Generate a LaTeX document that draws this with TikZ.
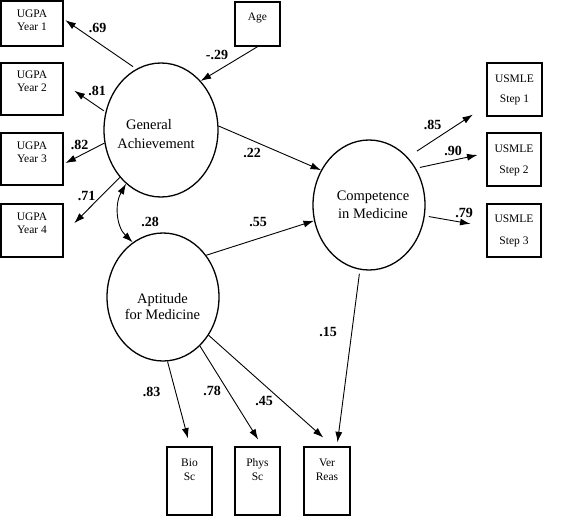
\documentclass[tikz,border=0pt]{standalone}
\usepackage{fontspec}
\setmainfont{Liberation Serif}
\usetikzlibrary{arrows.meta,shapes.geometric}
\newcommand{\bxt}[4]{\parbox[c][#2][t]{#1}{\centering\vspace*{#3}#4\par}}
\tikzset{
  conn/.style={line width=0.9pt, -{Latex[length=10.5pt,width=7pt]}},
  biconn/.style={line width=0.9pt, {Latex[length=10.5pt,width=7pt]}-{Latex[length=10.5pt,width=7pt]}},
  obs/.style={draw, line width=1.4pt, rectangle, inner sep=0pt, font=\fontsize{11.5}{13}\selectfont},
  lat/.style={draw, ellipse, line width=1.3pt, inner sep=0pt},
  lattext/.style={align=center, font=\fontsize{14.5}{18.3}\selectfont, inner sep=0pt},
  coef/.style={font=\bfseries\fontsize{14}{16}\selectfont, inner sep=0pt},
}
\begin{document}
\begin{tikzpicture}[x=1pt,y=-1pt]
\useasboundingbox (0,0) rectangle (568,517);

% observed boxes
\node[obs] (y1) at (32,23.5) {\bxt{62pt}{45pt}{9pt}{UGPA\\Year 1}};
\node[obs] (y2) at (32,89) {\bxt{62pt}{52pt}{8pt}{UGPA\\Year 2}};
\node[obs] (y3) at (32,159) {\bxt{62pt}{52pt}{9pt}{UGPA\\Year 3}};
\node[obs] (y4) at (32,230.5) {\bxt{62pt}{53pt}{9pt}{UGPA\\Year 4}};
\node[obs] (age) at (257.5,24) {\bxt{45pt}{44pt}{11pt}{Age}};
\node[obs, font=\fontsize{11.5}{20}\selectfont] (s1) at (514.5,89.5) {\bxt{55pt}{53pt}{12pt}{USMLE\\Step 1}};
\node[obs, font=\fontsize{11.5}{21}\selectfont] (s2) at (514,159.5) {\bxt{54pt}{53pt}{12pt}{USMLE\\Step 2}};
\node[obs, font=\fontsize{11.5}{22}\selectfont] (s3) at (514,230.5) {\bxt{54pt}{53pt}{11pt}{USMLE\\Step 3}};
\node[obs, font=\fontsize{11.5}{14}\selectfont] (bio) at (189.5,481) {\bxt{45pt}{68pt}{12pt}{Bio\\Sc}};
\node[obs, font=\fontsize{11.5}{14}\selectfont] (phys) at (257.5,481) {\bxt{45pt}{68pt}{12pt}{Phys\\Sc}};
\node[obs, font=\fontsize{11.5}{14}\selectfont] (vr) at (327,481) {\bxt{46pt}{68pt}{12pt}{Ver\\Reas}};

% latent ellipses
\node[lat, minimum width=114pt, minimum height=134pt] (ga) at (161,130) {};
\node[lat, minimum width=112pt, minimum height=130pt] (cm) at (369,205) {};
\node[lat, minimum width=112pt, minimum height=128pt] (am) at (163,297) {};
\node[lattext] (gat) at (156,134) {General\rule{14pt}{0pt}\\Achievement};
\node[lattext] (cmt) at (373,204.7) {Competence\\in Medicine};
\node[lattext, font=\fontsize{14.5}{16.5}\selectfont] (amt) at (162.5,306.5) {Aptitude\\for Medicine};

% connectors
\draw[conn, shorten <=4pt, shorten >=2pt] (ga.112) -- (y1.8);
\draw[conn, shorten <=2pt, shorten >=13pt] (ga.162) -- (y2.10);
\draw[conn, shorten >=2pt] (ga.193) -- (y3.351);
\draw[conn, shorten >=15pt] (ga.229) -- (y4.354);
\draw[conn] (age.south) -- (ga.51);
\draw[conn] (ga.4) -- (cm.144);
\draw[biconn] (ga.237) to[out=240,in=136] (am.119);
\draw[conn] (am.44) -- (cm.196);
\draw[conn, shorten <=11pt, shorten >=16pt] (cm.51) -- (s1.210.5);
\draw[conn, shorten <=4pt, shorten >=9pt] (cm.38.5) -- (s2.167);
\draw[conn, shorten <=4pt, shorten >=16pt] (cm.349) -- (s3.172);
\draw[conn, shorten <=4pt, shorten >=4pt] (cm.262.5) -- (vr.74);
\draw[conn, shorten >=8pt] (am.274) -- (bio.89);
\draw[conn, shorten >=8pt] (am.307) -- (phys.82);
\draw[conn, shorten >=13pt] (am.320) -- (vr.80);

% coefficients
\node[coef] (c69) at (97.7,28.3) {.69};
\node[coef] (c29) at (217,55) {-.29};
\node[coef] (c81) at (97,90.5) {.81};
\node[coef] (c82) at (79.5,144.5) {.82};
\node[coef] (c71) at (86.7,196) {.71};
\node[coef] (c22) at (252,153) {.22};
\node[coef] (c28) at (150,222) {.28};
\node[coef] (c55) at (258,222) {.55};
\node[coef] (c85) at (432.7,124.7) {.85};
\node[coef] (c90) at (453,151.3) {.90};
\node[coef] (c79) at (464,213) {.79};
\node[coef] (c15) at (328,332) {.15};
\node[coef] (c83) at (151.7,392) {.83};
\node[coef] (c78) at (212,391) {.78};
\node[coef] (c45) at (264,401) {.45};
\end{tikzpicture}
\end{document}
